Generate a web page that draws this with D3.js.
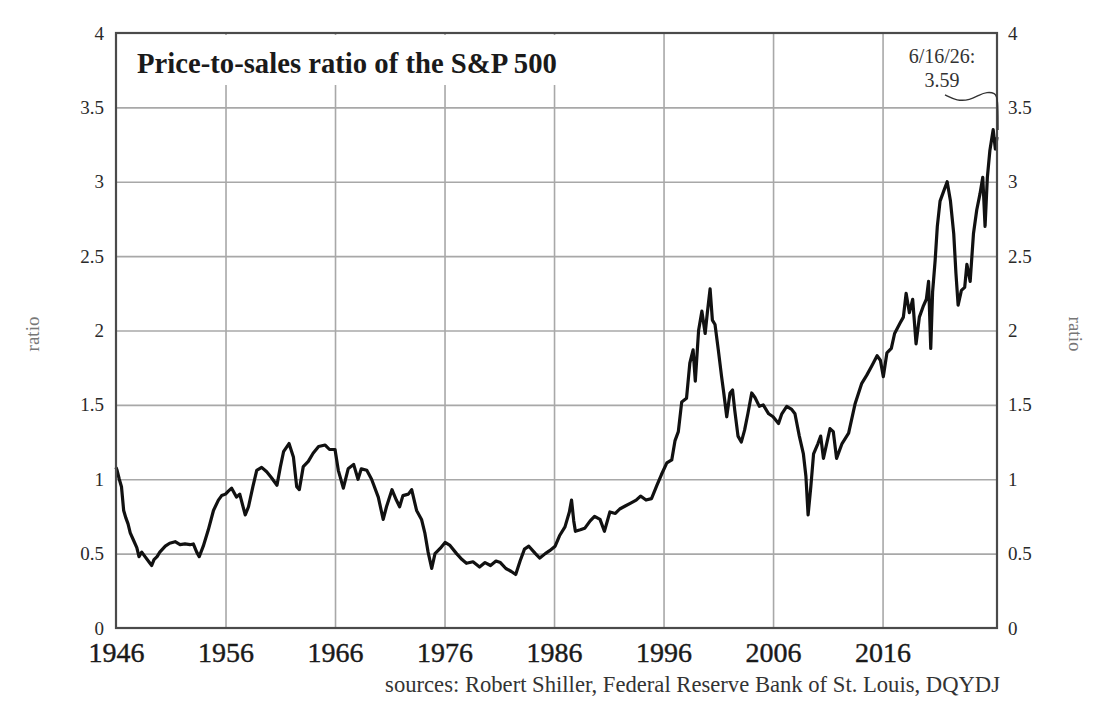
<!DOCTYPE html>
<html>
<head>
<meta charset="utf-8">
<script src="https://cdn.jsdelivr.net/npm/d3@7"></script>
<style>
  body { margin: 0; background: #fff; }
  text { font-family: "Liberation Serif", "DejaVu Serif", serif; }
</style>
</head>
<body>
<svg id="chart" width="1120" height="717"></svg>
<script>
// price-to-sales ratio (decimal year, ratio)
const years = [
  1946.0, 1946.1, 1946.3, 1946.5, 1946.7, 1946.9, 1947.1, 1947.3, 1947.6, 1947.9,
  1948.1, 1948.35, 1948.65, 1948.95, 1949.26, 1949.47, 1949.75, 1950.0, 1950.5, 1950.9,
  1951.4, 1951.85, 1952.3, 1952.76, 1953.06, 1953.37, 1953.6, 1953.97, 1954.43, 1954.9,
  1955.35, 1955.65, 1956.0, 1956.26, 1956.56, 1957.0, 1957.3, 1957.8, 1958.1, 1958.5,
  1958.85, 1959.3, 1959.76, 1960.2, 1960.7, 1961.0, 1961.3, 1961.8, 1962.2, 1962.5,
  1962.74, 1963.1, 1963.56, 1964.0, 1964.5, 1965.1, 1965.5, 1966.0, 1966.3, 1966.76,
  1967.2, 1967.7, 1968.1, 1968.4, 1968.9, 1969.34, 1969.95, 1970.4, 1970.7, 1971.2,
  1971.6, 1971.9, 1972.2, 1972.7, 1973.0, 1973.45, 1973.9, 1974.2, 1974.5, 1974.83,
  1975.13, 1975.6, 1976.05, 1976.5, 1977.1, 1977.6, 1978.0, 1978.6, 1979.2, 1979.7,
  1980.2, 1980.7, 1981.1, 1981.6, 1982.1, 1982.5, 1982.9, 1983.3, 1983.7, 1984.3,
  1984.7, 1985.2, 1985.6, 1986.1, 1986.5, 1987.0, 1987.4, 1987.6, 1987.8, 1987.95,
  1988.4, 1988.8, 1989.3, 1989.7, 1990.2, 1990.6, 1991.1, 1991.6, 1992.0, 1992.5,
  1993.0, 1993.5, 1993.9, 1994.4, 1994.9, 1995.4, 1995.8, 1996.3, 1996.75, 1997.05,
  1997.35, 1997.66, 1998.1, 1998.4, 1998.7, 1998.9, 1999.2, 1999.5, 1999.8, 2000.0,
  2000.25, 2000.46, 2000.7, 2001.0, 2001.3, 2001.5, 2001.77, 2002.07, 2002.3, 2002.5,
  2002.8, 2003.1, 2003.4, 2003.7, 2004.05, 2004.35, 2004.75, 2005.1, 2005.6, 2006.0,
  2006.5, 2006.8, 2007.25, 2007.7, 2008.0, 2008.4, 2008.77, 2009.0, 2009.2, 2009.45,
  2009.7, 2010.1, 2010.35, 2010.6, 2011.2, 2011.5, 2011.8, 2012.3, 2012.9, 2013.5,
  2014.1, 2014.56, 2015.0, 2015.5, 2015.8, 2016.07, 2016.4, 2016.8, 2017.1, 2017.6,
  2017.9, 2018.15, 2018.45, 2018.75, 2019.06, 2019.36, 2019.7, 2020.0, 2020.2, 2020.4,
  2020.57, 2020.8, 2021.0, 2021.25, 2021.55, 2021.9, 2022.2, 2022.5, 2022.7, 2022.9,
  2023.2, 2023.5, 2023.7, 2024.0, 2024.3, 2024.6, 2024.9, 2025.15, 2025.36, 2025.57,
  2025.8, 2026.1, 2026.3, 2026.45
]
const ratios = [
  1.08, 1.06, 1.00, 0.95, 0.79, 0.74, 0.70, 0.64, 0.59, 0.54,
  0.48, 0.51, 0.48, 0.45, 0.42, 0.46, 0.48, 0.51, 0.55, 0.57,
  0.58, 0.56, 0.565, 0.56, 0.565, 0.51, 0.48, 0.55, 0.66, 0.79,
  0.86, 0.89, 0.90, 0.92, 0.94, 0.88, 0.90, 0.76, 0.815, 0.95,
  1.06, 1.08, 1.05, 1.01, 0.96, 1.08, 1.185, 1.24, 1.15, 0.95,
  0.93, 1.085, 1.12, 1.175, 1.22, 1.23, 1.20, 1.20, 1.06, 0.94,
  1.07, 1.10, 1.00, 1.07, 1.06, 1.00, 0.88, 0.73, 0.815, 0.93,
  0.86, 0.815, 0.89, 0.90, 0.93, 0.79, 0.73, 0.64, 0.51, 0.40,
  0.50, 0.535, 0.575, 0.555, 0.50, 0.46, 0.435, 0.445, 0.41, 0.44,
  0.42, 0.45, 0.44, 0.40, 0.38, 0.36, 0.45, 0.53, 0.55, 0.50,
  0.47, 0.50, 0.52, 0.55, 0.62, 0.68, 0.78, 0.86, 0.72, 0.65,
  0.66, 0.67, 0.72, 0.75, 0.73, 0.65, 0.78, 0.77, 0.80, 0.82,
  0.84, 0.86, 0.887, 0.86, 0.87, 0.96, 1.03, 1.11, 1.13, 1.26,
  1.32, 1.52, 1.545, 1.78, 1.87, 1.66, 2.00, 2.13, 1.98, 2.12,
  2.28, 2.07, 2.04, 1.87, 1.69, 1.58, 1.42, 1.58, 1.60, 1.465,
  1.29, 1.25, 1.33, 1.44, 1.58, 1.55, 1.49, 1.50, 1.44, 1.42,
  1.375, 1.44, 1.49, 1.47, 1.44, 1.29, 1.17, 1.02, 0.76, 0.95,
  1.17, 1.24, 1.29, 1.14, 1.34, 1.32, 1.14, 1.24, 1.31, 1.51,
  1.645, 1.70, 1.76, 1.83, 1.80, 1.69, 1.85, 1.88, 1.98, 2.05,
  2.09, 2.25, 2.12, 2.21, 1.91, 2.09, 2.16, 2.21, 2.33, 1.88,
  2.26, 2.47, 2.70, 2.87, 2.93, 3.00, 2.87, 2.65, 2.385, 2.17,
  2.27, 2.29, 2.445, 2.33, 2.65, 2.81, 2.92, 3.03, 2.70, 3.03,
  3.21, 3.35, 3.22, 3.30
]
const yTicks = [0, 0.5, 1, 1.5, 2, 2.5, 3, 3.5, 4]
const yearTicks = [1946, 1956, 1966, 1976, 1986, 1996, 2006, 2016]
const lastLabel = ['6/16/26:', '3.59']
const lastValue = 3.59
const title = 'Price-to-sales ratio of the S&P 500'
const source = 'sources: Robert Shiller, Federal Reserve Bank of St. Louis, DQYDJ'

const LEFT = 116
const RIGHT = 997
const TOP = 33
const BOTTOM = 628

const svg = d3.select('#chart')

const x = d3.scaleLinear().domain([1946, 2026.45]).range([LEFT, RIGHT])
const y = d3.scaleLinear().domain([0, 4]).range([BOTTOM, TOP])

// grid
svg.append('g')
  .attr('transform', `translate(0,${BOTTOM})`)
  .call(d3.axisBottom(x).tickValues(yearTicks.slice(1)).tickSize(-(BOTTOM - TOP)).tickFormat(''))
  .call(g => g.select('.domain').remove())
  .call(g => g.selectAll('line').attr('stroke', '#a8a8a8').attr('stroke-width', 1.6))

svg.append('g')
  .attr('transform', `translate(${LEFT},0)`)
  .call(d3.axisLeft(y).tickValues(yTicks.slice(1, -1)).tickSize(-(RIGHT - LEFT)).tickFormat(''))
  .call(g => g.select('.domain').remove())
  .call(g => g.selectAll('line').attr('stroke', '#a8a8a8').attr('stroke-width', 1.6))

// title sits on a white patch over the grid
svg.append('rect')
  .attr('x', LEFT + 2).attr('y', TOP + 2)
  .attr('width', 450).attr('height', 50)
  .attr('fill', '#fff')

const titleText = svg.append('text')
  .attr('x', 137).attr('y', 73)
  .attr('font-weight', 'bold')
  .attr('font-size', 24)
  .attr('fill', '#1a1a1a')
  .text(title)
fitWidth(titleText, 420)

// line
const data = years.map((t, i) => ({ t: t, v: ratios[i] }))
const line = d3.line().x(d => x(d.t)).y(d => y(d.v))

svg.append('path')
  .datum(data)
  .attr('d', line)
  .attr('fill', 'none')
  .attr('stroke', '#111')
  .attr('stroke-width', 3.2)
  .attr('stroke-linejoin', 'round')

// frame
svg.append('rect')
  .attr('x', LEFT).attr('y', TOP)
  .attr('width', RIGHT - LEFT).attr('height', BOTTOM - TOP)
  .attr('fill', 'none')
  .attr('stroke', '#4a4a4a')
  .attr('stroke-width', 2.2)

// axes labels
const fmt = d => d3.format('')(d)

svg.append('g')
  .attr('transform', `translate(${LEFT},0)`)
  .call(d3.axisLeft(y).tickValues(yTicks).tickSize(0).tickPadding(12).tickFormat(fmt))
  .call(g => g.select('.domain').remove())
  .call(g => g.selectAll('text')
    .attr('font-family', '"DejaVu Serif", serif')
    .attr('font-size', 19).attr('fill', '#2a2a2a'))

svg.append('g')
  .attr('transform', `translate(${RIGHT},0)`)
  .call(d3.axisRight(y).tickValues(yTicks).tickSize(0).tickPadding(11).tickFormat(fmt))
  .call(g => g.select('.domain').remove())
  .call(g => g.selectAll('text')
    .attr('font-family', '"DejaVu Serif", serif')
    .attr('font-size', 19).attr('fill', '#2a2a2a'))

svg.append('g')
  .attr('transform', `translate(0,${BOTTOM})`)
  .call(d3.axisBottom(x).tickValues(yearTicks).tickSize(0).tickFormat(d3.format('d')))
  .call(g => g.select('.domain').remove())
  .call(g => g.selectAll('text')
    .attr('y', 34).attr('dy', 0)
    .attr('font-family', '"Liberation Serif", serif')
    .attr('font-size', 28).attr('fill', '#1a1a1a')
    .attr('stroke', '#1a1a1a').attr('stroke-width', 0.4))

// axis titles
svg.append('text')
  .attr('transform', `translate(32,334) rotate(-90)`)
  .attr('text-anchor', 'middle')
  .attr('dy', '0.35em')
  .attr('font-size', 19)
  .attr('fill', '#777')
  .text('ratio')

svg.append('text')
  .attr('transform', `translate(1076,334) rotate(90)`)
  .attr('text-anchor', 'middle')
  .attr('dy', '0.35em')
  .attr('font-size', 19)
  .attr('fill', '#777')
  .text('ratio')

// last value note
const ax = x(2026.45)
const ay = y(lastValue)

svg.selectAll('.note')
  .data(lastLabel)
  .enter().append('text')
  .attr('class', 'note')
  .attr('x', ax - 55)
  .attr('y', (d, i) => ay - 31 + i * 24)
  .attr('text-anchor', 'middle')
  .attr('font-size', 20)
  .attr('fill', '#333')
  .text(d => d)

svg.append('path')
  .attr('d', d3.line().curve(d3.curveBasis)([
    [ax - 52, ay + 1], [ax - 40, ay + 7], [ax - 27, ay + 6], [ax - 18, ay + 1],
    [ax - 10, ay - 2], [ax - 2, ay - 1], [ax + 1, ay + 4], [ax + 1, ay + 36]
  ]))
  .attr('fill', 'none')
  .attr('stroke', '#333')
  .attr('stroke-width', 1.4)

// source line
const sourceText = svg.append('text')
  .attr('x', 1000).attr('y', 692)
  .attr('text-anchor', 'end')
  .attr('font-size', 18)
  .attr('fill', '#333')
  .text(source)
fitWidth(sourceText, 615)

function fitWidth (sel, w) {
  const size = +sel.attr('font-size')
  const len = sel.node().getComputedTextLength()
  sel.attr('font-size', (size * w / len).toFixed(2))
}
</script>
</body>
</html>
